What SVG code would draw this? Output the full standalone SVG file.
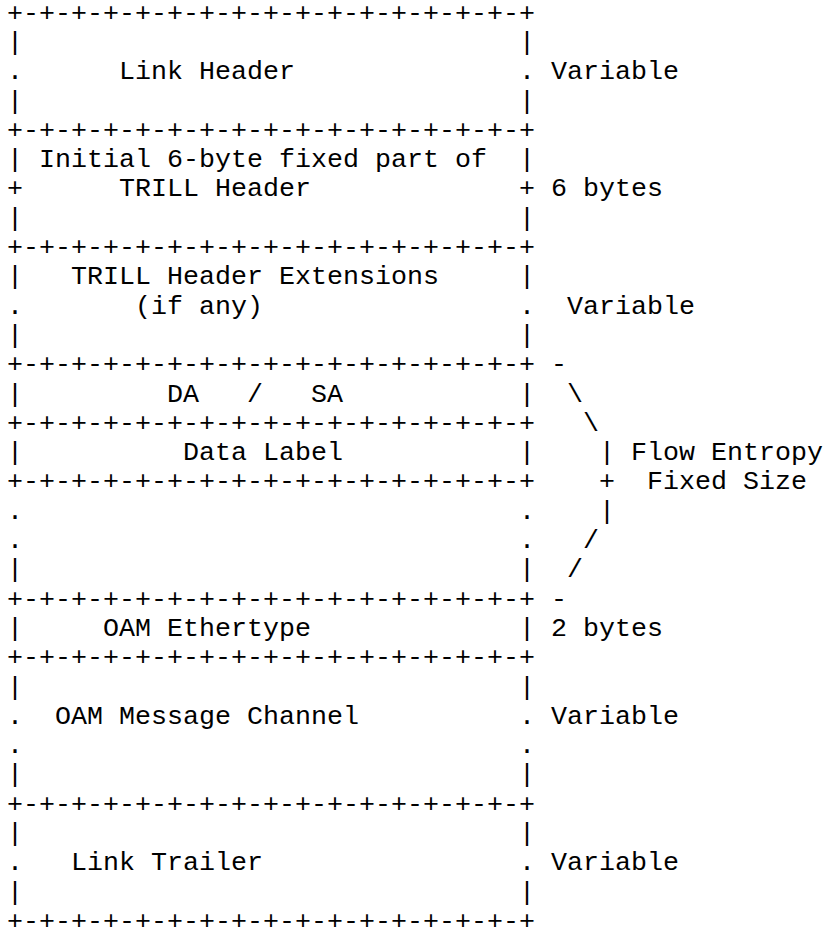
<svg xmlns="http://www.w3.org/2000/svg" xmlns:xlink="http://www.w3.org/1999/xlink" width="823" height="931" viewBox="0 0 823 931" xml:space="preserve">
<style>
text { font-family: "Liberation Mono", "Courier New", monospace; font-size: 26.67px; fill: #000; white-space: pre; }
</style>
<defs>
<text id="rule" x="7" y="0">+-+-+-+-+-+-+-+-+-+-+-+-+-+-+-+-+</text>
<g id="side"><text x="7" y="0">|</text><text x="519" y="0">|</text></g>
<g id="dots"><text x="7" y="0">.</text><text x="519" y="0">.</text></g>
</defs>
<rect width="823" height="931" fill="#fff"/>
<g id="link-header">
<use xlink:href="#rule" y="20.6"/>
<use xlink:href="#side" y="49.9"/>
<use xlink:href="#dots" y="79.2"/>
<text x="119" y="79.2">Link Header</text>
<text x="551" y="79.2">Variable</text>
<use xlink:href="#side" y="108.5"/>
</g>
<g id="trill-fixed">
<use xlink:href="#rule" y="137.8"/>
<use xlink:href="#side" y="167.1"/>
<text x="39" y="167.1">Initial 6-byte fixed part of</text>
<text x="7" y="196.4">+</text><text x="519" y="196.4">+</text>
<text x="119" y="196.4">TRILL Header</text>
<text x="551" y="196.4">6 bytes</text>
<use xlink:href="#side" y="225.7"/>
</g>
<g id="trill-ext">
<use xlink:href="#rule" y="255"/>
<use xlink:href="#side" y="284.3"/>
<text x="71" y="284.3">TRILL Header Extensions</text>
<use xlink:href="#dots" y="313.6"/>
<text x="135" y="313.6">(if any)</text>
<text x="567" y="313.6">Variable</text>
<use xlink:href="#side" y="342.9"/>
</g>
<g id="da-sa">
<use xlink:href="#rule" y="372.2"/>
<use xlink:href="#side" y="401.5"/>
<text x="167" y="401.5">DA   /   SA</text>
</g>
<g id="data-label">
<use xlink:href="#rule" y="430.8"/>
<use xlink:href="#side" y="460.1"/>
<text x="183" y="460.1">Data Label</text>
</g>
<g id="flow-entropy-rest">
<use xlink:href="#rule" y="489.4"/>
<use xlink:href="#dots" y="518.7"/>
<use xlink:href="#dots" y="548"/>
<use xlink:href="#side" y="577.3"/>
</g>
<g id="oam-ethertype">
<use xlink:href="#rule" y="606.6"/>
<use xlink:href="#side" y="635.9"/>
<text x="103" y="635.9">OAM Ethertype</text>
<text x="551" y="635.9">2 bytes</text>
</g>
<g id="oam-message-channel">
<use xlink:href="#rule" y="665.2"/>
<use xlink:href="#side" y="694.5"/>
<use xlink:href="#dots" y="723.8"/>
<text x="55" y="723.8">OAM Message Channel</text>
<text x="551" y="723.8">Variable</text>
<use xlink:href="#dots" y="753.1"/>
<use xlink:href="#side" y="782.4"/>
</g>
<g id="link-trailer">
<use xlink:href="#rule" y="811.7"/>
<use xlink:href="#side" y="841"/>
<use xlink:href="#dots" y="870.3"/>
<text x="71" y="870.3">Link Trailer</text>
<text x="551" y="870.3">Variable</text>
<use xlink:href="#side" y="899.6"/>
<use xlink:href="#rule" y="928.9"/>
</g>
<g id="connectors">
<text x="551" y="372.2">-</text>
<text x="567" y="401.5">\</text>
<text x="583" y="430.8">\</text>
<text x="599" y="460.1">|</text>
<text x="599" y="489.4">+</text>
<text x="599" y="518.7">|</text>
<text x="583" y="548">/</text>
<text x="567" y="577.3">/</text>
<text x="551" y="606.6">-</text>
<text x="631" y="460.1">Flow Entropy</text>
<text x="647" y="489.4">Fixed Size</text>
</g>
</svg>
